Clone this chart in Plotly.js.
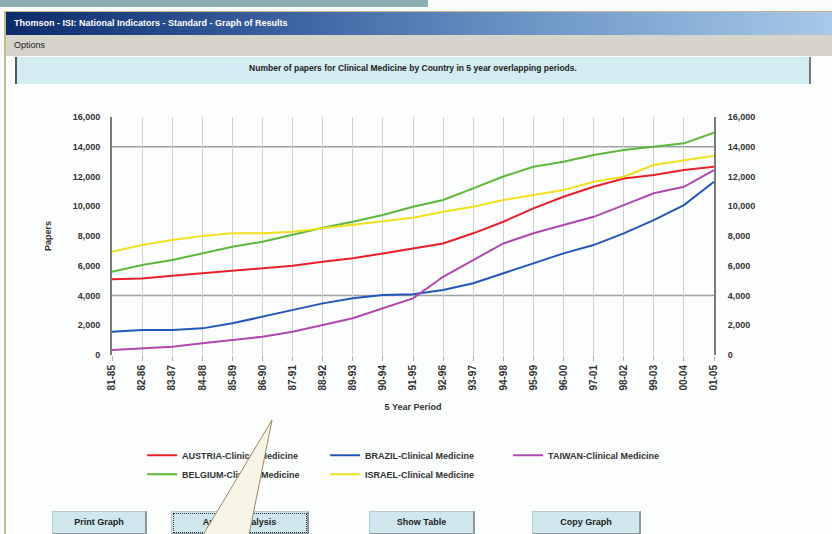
<!DOCTYPE html>
<html>
<head>
<meta charset="utf-8">
<script src="https://cdn.plot.ly/plotly-3.0.1.min.js"></script>
<style>
  html, body { margin:0; padding:0; width:832px; height:534px; overflow:hidden; background:#fbfcfc; font-family:"Liberation Sans", Arial, sans-serif; }
  .abs { position:absolute; }
  #chart { position:absolute; left:0; top:0; width:832px; height:534px; z-index:2; }
  .btn { position:absolute; top:511px; height:24px; background:#cfe7ed; border:1px solid #b9c9ce; border-right:2px solid #8a9a9f; border-bottom:2px solid #8a9a9f; box-sizing:border-box; font-size:9px; font-weight:bold; color:#222; text-align:center; line-height:21px; z-index:3; }
</style>
</head>
<body>
<div class="abs" style="left:0;top:0;width:428px;height:7px;background:#8eaeb6;"></div>
<div class="abs" style="left:4px;top:11px;width:828px;height:523px;border-left:2px solid #c9b98e;border-top:1px solid #c9b98e;background:#fcfdfd;box-sizing:border-box;"></div>
<div class="abs" style="left:6px;top:12px;width:826px;height:23px;background:linear-gradient(to right,#0c2a6c 0%,#3d64a2 35%,#6f98c8 65%,#a8c8e8 100%);color:#fff;font-size:9px;font-weight:bold;line-height:23px;padding-left:8px;box-sizing:border-box;z-index:3;">Thomson - ISI: National Indicators - Standard - Graph of Results</div>
<div class="abs" style="left:6px;top:35px;width:826px;height:21px;background:#d7d4cc;color:#222;font-size:9px;line-height:21px;padding-left:8px;box-sizing:border-box;z-index:3;">Options</div>
<div class="abs" style="left:15px;top:57px;width:796px;height:27px;background:#d3ecf1;border-left:2px solid #555;border-right:2px solid #777;box-sizing:border-box;color:#222;font-size:8.5px;font-weight:bold;text-align:center;line-height:22px;z-index:3;">Number of papers for Clinical Medicine by Country in 5 year overlapping periods.</div>

<div id="chart"></div>

<div class="btn" style="left:52px;width:95px;">Print Graph</div>
<div class="btn" style="left:171px;width:138px;outline:1px dotted #333;outline-offset:-3px;">Another Analysis</div>
<div class="btn" style="left:369px;width:106px;">Show Table</div>
<div class="btn" style="left:532px;width:109px;">Copy Graph</div>

<svg class="abs" style="left:0;top:0;z-index:5;" width="832" height="534">
  <polygon points="272,420 203,535 249,535" fill="#f7f4e8" stroke="#9c8a5c" stroke-width="1"/>
</svg>

<script>
// 5-year overlapping periods
var periods = ["81-85","82-86","83-87","84-88","85-89","86-90","87-91","88-92","89-93","90-94","91-95",
               "92-96","93-97","94-98","95-99","96-00","97-01","98-02","99-03","00-04","01-05"];

var austria = [5100,5150,5330,5490,5670,5830,6000,6270,6500,6830,7150,7500,8180,8960,9860,10640,11310,11870,12100,12430,12650];
var brazil  = [1570,1680,1680,1790,2130,2570,3020,3470,3810,4030,4080,4370,4820,5490,6160,6830,7390,8180,9070,10080,11650];
var taiwan  = [340,450,560,790,1010,1230,1570,2020,2470,3140,3810,5260,6380,7500,8180,8740,9290,10080,10870,11310,12430];
var belgium = [5600,6050,6380,6830,7280,7610,8100,8550,8960,9410,9970,10420,11200,12000,12650,12990,13440,13780,14000,14230,14940];
var israel  = [6940,7390,7730,8000,8180,8180,8290,8510,8740,8960,9220,9630,9970,10420,10750,11090,11650,11980,12770,13100,13390];

var yTicks = [0,2000,4000,6000,8000,10000,12000,14000,16000];
var gridValues = [4000,14000];

var xIdx = periods.map(function(p, i){ return i; });

function tr(name, vals, color, legend) {
  return { x: xIdx, y: vals, name: name, type: 'scatter', mode: 'lines',
           line: { color: color, width: 2 }, legend: legend, hoverinfo: 'skip' };
}

var data = [
  tr('AUSTRIA-Clinical Medicine', austria, '#e8202a', 'legend'),
  tr('BRAZIL-Clinical Medicine', brazil, '#2457b8', 'legend'),
  tr('TAIWAN-Clinical Medicine', taiwan, '#b048b0', 'legend'),
  tr('BELGIUM-Clinical Medicine', belgium, '#5cb83a', 'legend2'),
  tr('ISRAEL-Clinical Medicine', israel, '#f0e020', 'legend2'),
  { x: [], y: [], yaxis: 'y2', showlegend: false, hoverinfo: 'skip', type: 'scatter' }
];

var fontAx = { family: 'Liberation Sans, Arial, sans-serif', size: 9, color: '#333', weight: 'bold' };
var fontX = { family: 'Liberation Sans, Arial, sans-serif', size: 10, color: '#333', weight: 'bold' };

var shapes = gridValues.map(function(v){
  return { type: 'line', xref: 'paper', x0: 0, x1: 1, yref: 'y', y0: v, y1: v,
           line: { color: '#a0a0a0', width: 1.5 }, layer: 'below' };
});

var legendBase = {
  orientation: 'h', xanchor: 'left', yanchor: 'top',
  bgcolor: 'rgba(0,0,0,0)', itemwidth: 30, entrywidthmode: 'pixels',
  font: { family: 'Liberation Sans, Arial, sans-serif', size: 9, color: '#333', weight: 'bold' },
  itemclick: false, itemdoubleclick: false
};

var layout = {
  width: 832, height: 534,
  margin: { l: 112, r: 118, t: 117, b: 179, pad: 0 },
  paper_bgcolor: 'rgba(0,0,0,0)', plot_bgcolor: 'rgba(0,0,0,0)',
  showlegend: true,
  xaxis: {
    range: [0, 20], tickvals: xIdx, ticktext: periods, tickangle: -90,
    showgrid: true, gridcolor: '#cfcfcf', gridwidth: 1, zeroline: false, showline: false,
    ticks: 'outside', ticklen: 5, tickcolor: '#b0b0b0', tickfont: fontX,
    title: { text: '5 Year Period', font: fontAx, standoff: 14 }, fixedrange: true
  },
  yaxis: {
    range: [0, 16000], tickvals: yTicks, tickformat: ',', showgrid: false, zeroline: false,
    showline: true, linecolor: '#7a7a7a', linewidth: 2, ticks: '', tickfont: fontAx,
    ticklabelstandoff: 8,
    title: { text: 'Papers', font: fontAx, standoff: 20 }, fixedrange: true
  },
  yaxis2: {
    overlaying: 'y', side: 'right', range: [0, 16000], tickvals: yTicks, tickformat: ',',
    showgrid: false, zeroline: false, showline: true, linecolor: '#7a7a7a', linewidth: 2,
    ticks: '', tickfont: fontAx, ticklabelstandoff: 10, fixedrange: true
  },
  legend: Object.assign({}, legendBase, { x: 0.05, y: -0.36, entrywidth: 138 }),
  legend2: Object.assign({}, legendBase, { x: 0.05, y: -0.44, entrywidth: 138 }),
  shapes: shapes
};

Plotly.newPlot('chart', data, layout, { staticPlot: true, displayModeBar: false });
</script>
</body>
</html>
